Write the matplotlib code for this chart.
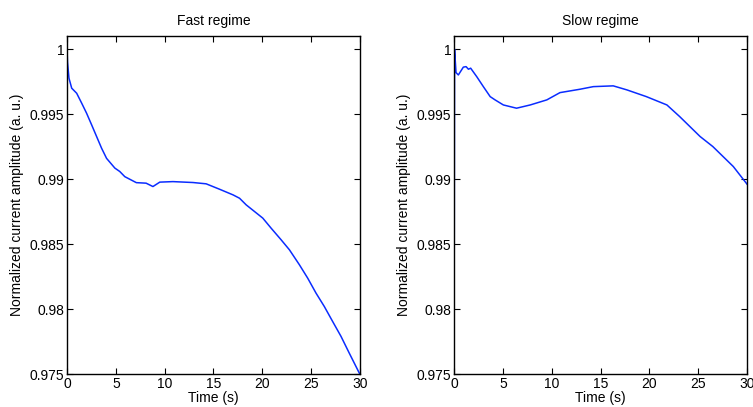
import matplotlib
matplotlib.use("Agg")
import matplotlib.pyplot as plt
from matplotlib.ticker import FormatStrFormatter

plt.rcParams['font.family'] = ['Liberation Sans', 'DejaVu Sans']

# Fast regime
fast_t = [0.0, 0.05, 0.2, 0.48, 0.99, 1.5, 2.0, 2.52, 3.03, 3.54, 4.05, 4.9, 5.4,
          5.92, 7.1, 8.1, 8.8, 9.5, 10.85, 12.9, 14.25, 15.6, 17.0, 17.67, 18.35,
          19.2, 20.05, 20.9, 21.93, 22.78, 23.8, 24.65, 25.5, 26.35, 27.2, 28.06,
          28.9, 29.93, 30.0]
fast_y = [1.0, 0.9990, 0.99777, 0.9970, 0.99661, 0.99585, 0.99508, 0.99418, 0.99328,
          0.99238, 0.9916, 0.99085, 0.99059, 0.99019, 0.98973, 0.98969, 0.98943,
          0.98977, 0.98981, 0.98974, 0.98964, 0.98923, 0.98879, 0.98853, 0.98802,
          0.98751, 0.987, 0.98623, 0.98533, 0.98456, 0.98341, 0.98238, 0.98123,
          0.9802, 0.97905, 0.9779, 0.97662, 0.97508, 0.975]

# Slow regime
slow_t = [0.0, 0.05, 0.2, 0.44, 0.95, 1.23, 1.47, 1.7, 2.32, 3.0, 3.7, 4.2, 5.05,
          6.4, 7.8, 9.5, 10.85, 12.9, 14.26, 16.3, 17.7, 19.7, 21.8, 23.1, 25.2,
          26.5, 28.6, 30.0]
slow_y = [0.975, 1.0, 0.9982, 0.99802, 0.99862, 0.99866, 0.99846, 0.99854, 0.99789,
          0.99712, 0.99635, 0.9961, 0.99571, 0.99546, 0.99571, 0.9961, 0.99666,
          0.99692, 0.99712, 0.99718, 0.99687, 0.99635, 0.99571, 0.99482, 0.99328,
          0.99251, 0.99097, 0.98962]

titles = ["Fast regime", "Slow regime"]
yticks = [0.975, 0.98, 0.985, 0.99, 0.995, 1.0]
xticks = [0, 5, 10, 15, 20, 25, 30]

fig = plt.figure(figsize=(7.53, 4.07), dpi=100)
ax1 = fig.add_axes([0.089, 0.081, 0.389, 0.830])
ax2 = fig.add_axes([0.603, 0.081, 0.389, 0.830])

for ax, t, y, title in [(ax1, fast_t, fast_y, titles[0]), (ax2, slow_t, slow_y, titles[1])]:
    ax.plot(t, y, color='#0a2cff', lw=1.1)
    ax.set_xlim(0, 30)
    ax.set_ylim(0.975, 1.001)
    ax.set_xticks(xticks)
    ax.set_yticks(yticks)
    ax.yaxis.set_major_formatter(FormatStrFormatter('%g'))
    ax.tick_params(direction='in', top=True, right=True, length=4, width=0.8,
                   labelsize=10, pad=2)
    for s in ax.spines.values():
        s.set_linewidth(1.0)
    ax.set_title(title, fontsize=10, pad=8)
    ax.set_xlabel("Time (s)", fontsize=10, labelpad=0)
    ax.set_ylabel("Normalized current amplitude (a. u.)", fontsize=10, labelpad=4)

fig.savefig("out.png", dpi=100)
